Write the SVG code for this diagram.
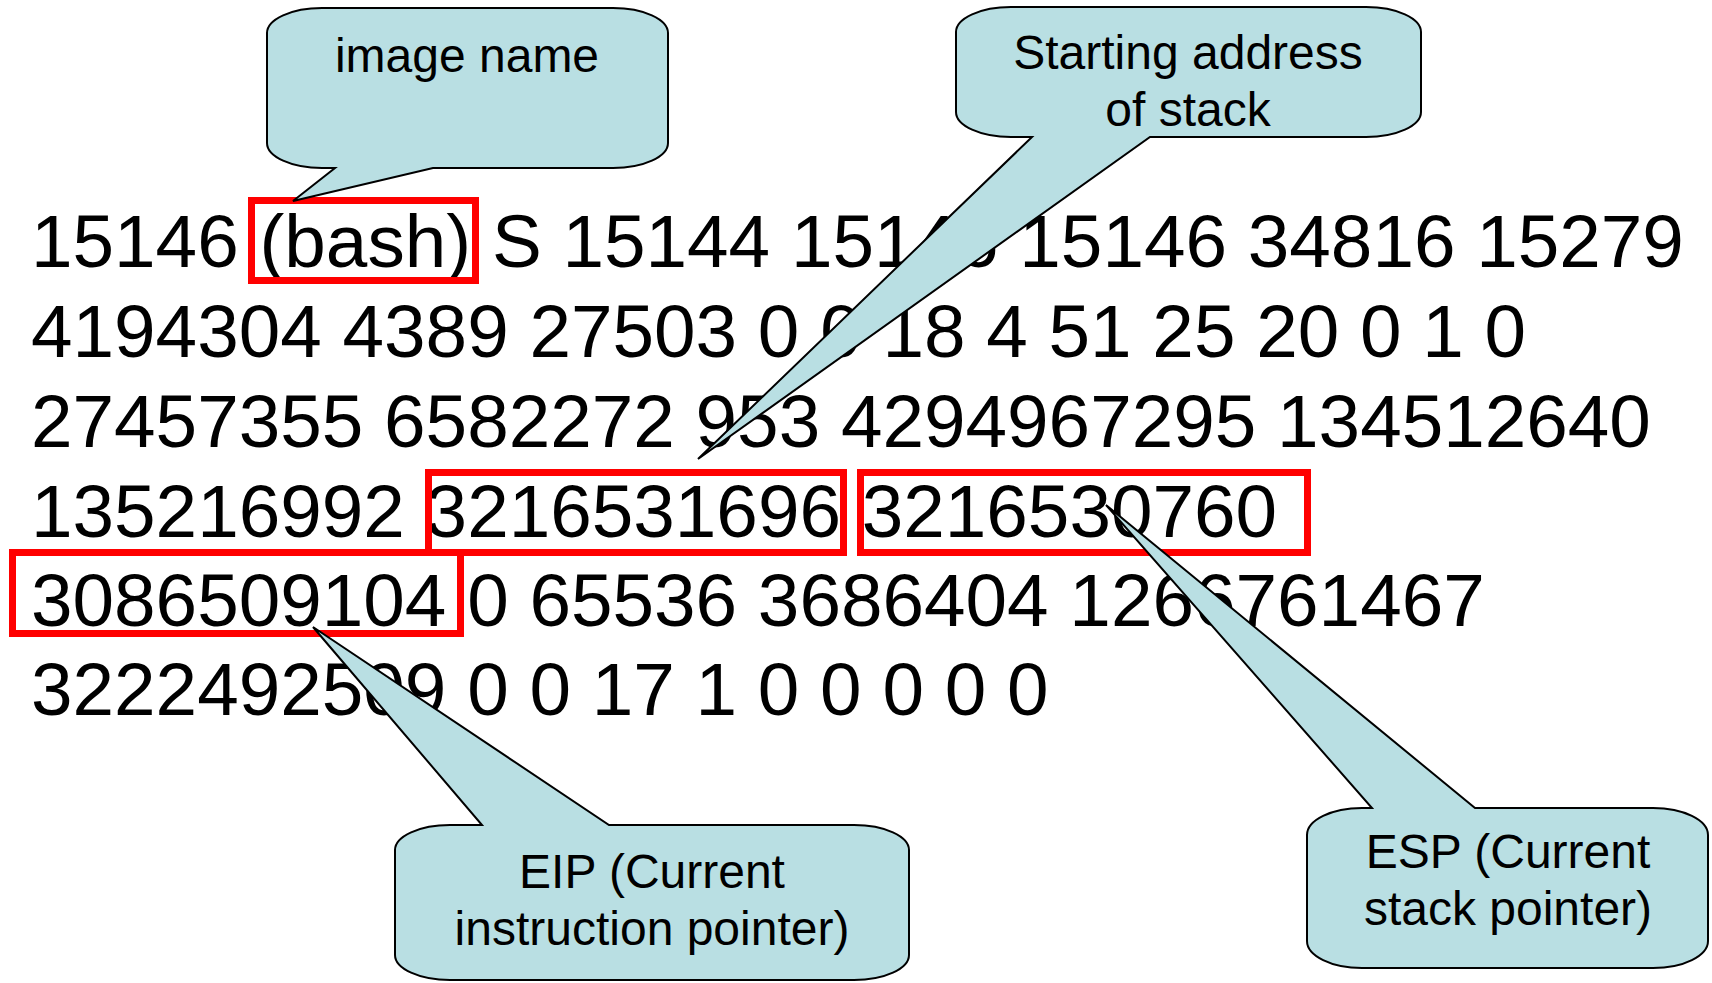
<svg xmlns="http://www.w3.org/2000/svg" width="1712" height="983" viewBox="0 0 1712 983">
  <style>
    .stat { font-family: "Liberation Sans", Arial, sans-serif; font-size: 74.7px; fill: #000; }
    .note { font-family: "Liberation Sans", Arial, sans-serif; font-size: 48px; fill: #000; text-anchor: middle; }
    .mark { fill: none; stroke: #FF0000; stroke-width: 7; }
    .bubble { fill: #B9DFE3; stroke: #000; stroke-width: 2; stroke-linejoin: miter; }
  </style>
  <rect width="1712" height="983" fill="#FFFFFF"/>

  <!-- /proc/[pid]/stat fields -->
  <g id="stat-text">
    <text class="stat" x="31" y="267">15146 (bash) S 15144 15146 15146 34816 15279</text>
    <text class="stat" x="31" y="357">4194304 4389 27503 0 0 18 4 51 25 20 0 1 0</text>
    <text class="stat" x="31" y="447">27457355 6582272 953 4294967295 134512640</text>
    <text class="stat" x="31" y="537">135216992 3216531696 3216530760</text>
    <text class="stat" x="31" y="626">3086509104 0 65536 3686404 1266761467</text>
    <text class="stat" x="31" y="715">3222492509 0 0 17 1 0 0 0 0 0</text>
  </g>

  <!-- highlighted fields -->
  <g id="highlights">
    <rect id="hl-name" class="mark" x="251.5" y="200.5" width="224" height="80"/>
    <rect id="hl-startstack" class="mark" x="428.5" y="472.5" width="415" height="80"/>
    <rect id="hl-esp" class="mark" x="860.5" y="472.5" width="447" height="80"/>
    <rect id="hl-eip" class="mark" x="12.5" y="552.5" width="448" height="81"/>
  </g>

  <!-- callout bubbles with pointers -->
  <g id="connectors">
    <g id="callout-image-name">
      <path class="bubble" d="M322,8 H613 A55,25 0 0 1 668,33 V143 A55,25 0 0 1 613,168 H433 L293,201 L335,168 H322 A55,25 0 0 1 267,143 V33 A55,25 0 0 1 322,8 Z"/>
      <text class="note" x="467" y="72">image name</text>
    </g>
    <g id="callout-stack-start">
      <path class="bubble" d="M1011,7 H1366 A55,25 0 0 1 1421,32 V112 A55,25 0 0 1 1366,137 H1150 L698,459 L1032,137 H1011 A55,25 0 0 1 956,112 V32 A55,25 0 0 1 1011,7 Z"/>
      <text class="note" x="1188" y="69">Starting address</text>
      <text class="note" x="1188" y="126">of stack</text>
    </g>
    <g id="callout-eip">
      <path class="bubble" d="M450,825 H482 L313,627 L609,825 H854 A55,25 0 0 1 909,850 V955 A55,25 0 0 1 854,980 H450 A55,25 0 0 1 395,955 V850 A55,25 0 0 1 450,825 Z"/>
      <text class="note" x="652" y="888">EIP (Current</text>
      <text class="note" x="652" y="945">instruction pointer)</text>
    </g>
    <g id="callout-esp">
      <path class="bubble" d="M1362,808 H1372 L1106,505 L1475,808 H1653 A55,27 0 0 1 1708,835 V941 A55,27 0 0 1 1653,968 H1362 A55,27 0 0 1 1307,941 V835 A55,27 0 0 1 1362,808 Z"/>
      <text class="note" x="1508" y="868">ESP (Current</text>
      <text class="note" x="1508" y="925">stack pointer)</text>
    </g>
  </g>
</svg>
